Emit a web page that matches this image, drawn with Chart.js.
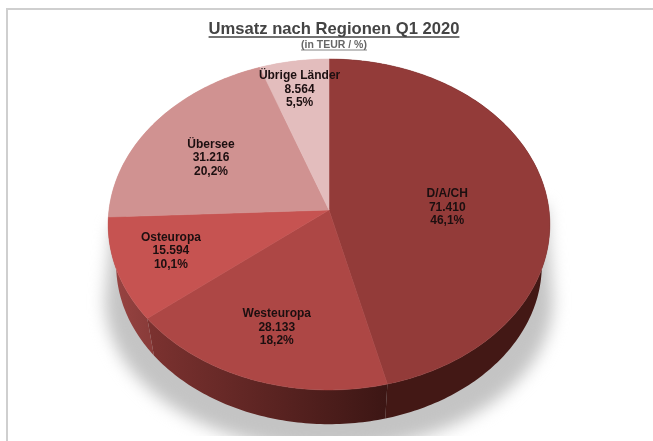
<!DOCTYPE html>
<html><head><meta charset="utf-8">
<style>
html,body{margin:0;padding:0;background:#fff;overflow:hidden}
#wrap{position:absolute;left:0;top:0;width:653px;height:441px;overflow:hidden}
#frame{position:absolute;left:6px;top:8px;width:700px;height:500px;border:2px solid #cfcfcf;box-sizing:border-box}
canvas{position:absolute;left:0;top:0}
</style>
<script src="https://cdn.jsdelivr.net/npm/chart.js@4/dist/chart.umd.min.js"></script>
</head><body>
<div id="wrap"><div id="frame"></div><canvas id="c" width="653" height="441"></canvas></div>
<script>
const categories = ['D/A/CH','Westeuropa','Osteuropa','Übersee','Übrige Länder'];
const revenue = [71410,28133,15594,31216,8564];
const shareLabels = ['46,1%','18,2%','10,1%','20,2%','5,5%'];
const revenueLabels = ['71.410','28.133','15.594','31.216','8.564'];
const faceColors = ['#933b39','#ad4745','#c65351','#d09291','#e3bdbd'];
const sideColors = [['#3a1412','#431815'],['#3c1614','#7c3230'],['#8a3c3a','#9a4543'],['#d09291','#d09291'],['#e3bdbd','#e3bdbd']];
const titleText = 'Umsatz nach Regionen Q1 2020';
const subtitleText = '(in TEUR / %)';

const P = {cx:329, cy:210, a:220, a2:212, b:164.2, b2:158, k:0.0876, depth:41};
const labelR = [0.54,0.70,0.745,0.62,0.77];
const labelNudge = [[1,8],[0,2],[-1,-3],[-8,3],[-2,-4]];
function proj(theta, r, lower){
  const u = r*Math.cos(theta), v = -r*Math.sin(theta), w = 1+P.k*v;
  return [P.cx+(lower?P.a2:P.a)*u/w, P.cy+(lower?P.depth:0)-(lower?P.b2:P.b)*v/w];
}
const persp = {
  id:'persp',
  beforeDatasetsDraw(chart){
    const ctx = chart.ctx, els = chart.getDatasetMeta(0).data;
    // ground shadow, cut off flat at the bottom
    ctx.save();
    ctx.beginPath(); ctx.rect(0,0,653,436); ctx.clip();
    ctx.filter='blur(8px)';
    ctx.fillStyle='#c4c4c4';
    ctx.beginPath();
    ctx.moveTo(112,225);
    ctx.lineTo(105,300);
    ctx.ellipse(329,300,224,150,0,Math.PI,0,true);
    ctx.lineTo(546,205);
    ctx.closePath();
    ctx.fill();
    ctx.restore();
    // sides
    els.forEach((el,i)=>{
      const s=el.startAngle,e=el.endAngle,n=Math.ceil((e-s)*60);
      const a0=proj(s,1),a1=proj(e,1);
      const g=ctx.createLinearGradient(a0[0],0,a1[0],0);
      g.addColorStop(0,sideColors[i][0]);g.addColorStop(1,sideColors[i][1]);
      ctx.fillStyle=g;
      ctx.beginPath();
      for(let j=0;j<=n;j++){const q=proj(s+(e-s)*j/n,1,false);j?ctx.lineTo(q[0],q[1]):ctx.moveTo(q[0],q[1]);}
      for(let j=n;j>=0;j--){const q=proj(s+(e-s)*j/n,1,true);ctx.lineTo(q[0],q[1]);}
      ctx.closePath();ctx.fill();
    });
    // faces
    els.forEach((el,i)=>{
      const s=el.startAngle,e=el.endAngle,n=Math.ceil((e-s)*60);
      ctx.fillStyle=faceColors[i];
      ctx.strokeStyle=faceColors[i];
      ctx.lineWidth=0.5;
      ctx.beginPath();ctx.moveTo(P.cx,P.cy);
      for(let j=0;j<=n;j++){const q=proj(s+(e-s)*j/n,1);ctx.lineTo(q[0],q[1]);}
      ctx.closePath();ctx.fill();ctx.stroke();
    });
    return false;
  },
  afterDraw(chart){
    const ctx=chart.ctx, els=chart.getDatasetMeta(0).data;
    ctx.save();
    ctx.textAlign='center';ctx.textBaseline='middle';
    ctx.font='bold 12px "Liberation Sans"';
    ctx.fillStyle='#1c0f10';
    els.forEach((el,i)=>{
      const m=(el.startAngle+el.endAngle)/2;
      const q=proj(m,labelR[i]);
      [categories[i],revenueLabels[i],shareLabels[i]].forEach((t,l)=>ctx.fillText(t,q[0]+labelNudge[i][0],q[1]+labelNudge[i][1]+(l-1)*13.5));
    });
    // title underlines
    ctx.font='bold 16.6px "Liberation Sans"';
    let w=ctx.measureText(titleText).width;
    ctx.strokeStyle='#444';ctx.lineWidth=1.3;
    ctx.beginPath();ctx.moveTo(334-w/2,37);ctx.lineTo(334+w/2,37);ctx.stroke();
    ctx.font='bold 10.5px "Liberation Sans"';
    w=ctx.measureText(subtitleText).width;
    ctx.strokeStyle='#666';ctx.lineWidth=0.8;
    ctx.beginPath();ctx.moveTo(334-w/2,50);ctx.lineTo(334+w/2,50);ctx.stroke();
    ctx.restore();
  }
};
new Chart(document.getElementById('c'),{
  type:'pie',
  data:{labels:categories,datasets:[{data:revenue,backgroundColor:faceColors,borderWidth:0}]},
  options:{
    responsive:false,animation:false,
    layout:{padding:{top:0,left:15,right:0,bottom:20}},
    plugins:{
      legend:{display:false},tooltip:{enabled:false},
      title:{display:true,fullSize:false,text:titleText,color:'#444444',font:{family:'"Liberation Sans"',size:16.6,weight:'bold'},padding:{top:19,bottom:0}},
      subtitle:{display:true,fullSize:false,text:subtitleText,color:'#666666',font:{family:'"Liberation Sans"',size:10.5,weight:'bold'},padding:{top:0,bottom:8}}
    }
  },
  plugins:[persp]
});
</script>
</body></html>
